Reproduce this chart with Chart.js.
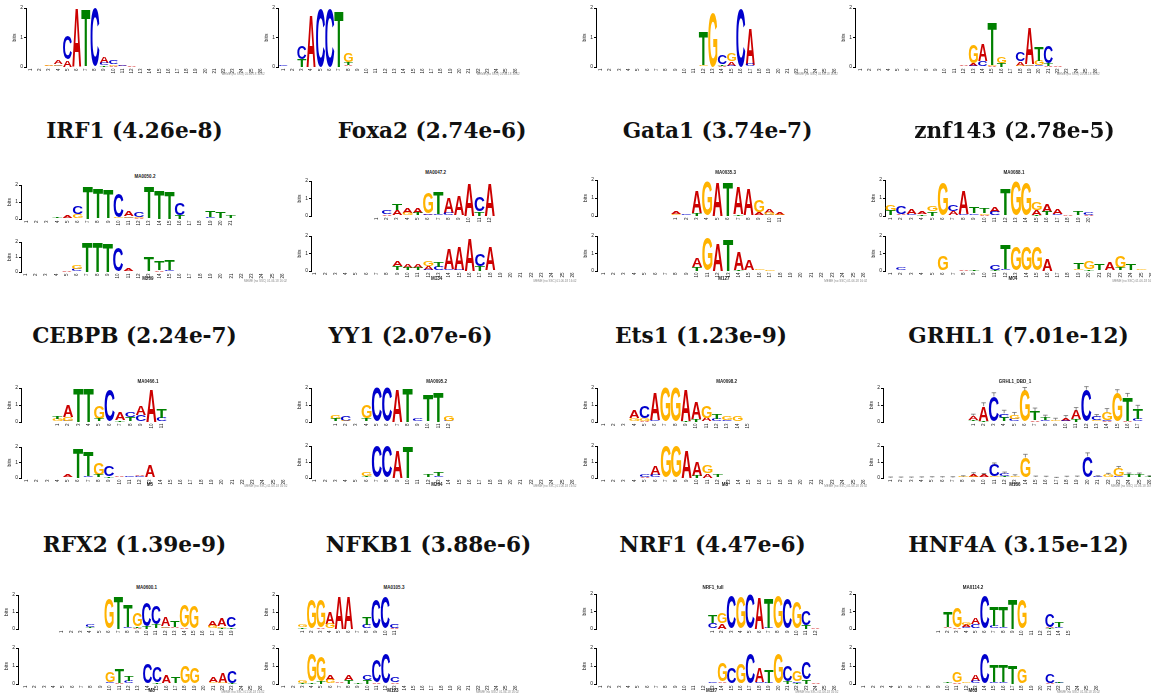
<!DOCTYPE html>
<html lang="en">
<head>
<meta charset="UTF-8">
<title>Motif comparisons</title>
<script src="https://cdn.jsdelivr.net/npm/chart.js"></script>
<style>
  body { margin: 0; background: #fff; width: 1151px; height: 693px; overflow: hidden; position: relative; font-family: "Liberation Sans", Arial, sans-serif; }
  canvas { position: absolute; }
  .title { position: absolute; font-family: "DejaVu Serif", serif; font-weight: bold; font-size: 21.6px; color: #111; transform: translate(-50%, -50%); white-space: nowrap; line-height: 1; }
  .mname { position: absolute; font-size: 4.5px; font-weight: bold; color: #222; transform: translate(-50%, -50%); white-space: nowrap; line-height: 1; }
  .credit { position: absolute; font-size: 3px; color: #888; transform: translate(-100%, -50%); white-space: nowrap; line-height: 1; }
</style>
</head>
<body>
<script>
// each column: letter + height in bits, position 1..n
const rowA1 = ["", "", "A.03 C.02 G.02", "C.05 G.06 A.12", "A.25 C.8", "A2", "T1.95", "T.03 C1.95", "T.05 C.1 A.2", "A.05 G.05 C.12", "A.05 C.03 G.02", "A.02 C.01"];
const rowA2 = ["C.03 A.02", "T.03", "T.28 C.45", "A1.77", "C1.97", "G.02 C1.95", "T1.9", "C.03 A.03 T.1 G.3", "A.01"];
const rowA3 = ["", "", "", "", "", "", "C.02", "", "", "", "", "C.03 G.05 T1.12", "G1.85", "A.04 T.06 C.3", "C.05 A.14 G.25", "C1.97", "C.08 A1.22", "", "", "G.02", "", "", "G.02"];
const rowA4 = ["", "", "", "", "", "", "", "", "", "", "C.03", "A.03 C.02", "C.05 A.08 G.6", "T.03 C.17 A.55", "A.04 G.04 T1.43", "T.14 G.23", "", "G.05 A.14 C.32", "G.05 C.06 A1.22", "C.05 G.17 T.48", "A.04 T.1 C.57", "A.04"];

const irf1Top = ["", "T.03", "C.02 T.03", "G.03 C.03 T.08", "G.06 A.18", "T.03 G.25 C.45", "T1.94", "C.05 T1.78", "A.05 T1.68", "G.1 C1.38", "C.1 G.08 A.32", "A.06 G.06 C.3", "C.05 T1.8", "T1.7", "T1.65", "T.25 C.7", "A.02", "", "A.05 C.05 T.38", "C.05 T.38", "C.05 T.13"];
const irf1Bot = ["A.02", "T.02", "C.03", "A.03 T.03", "C.03 A.08", "C.2 G.28", "T2", "T1.98", "T1.93", "T.05 C1.55", "G.05 A.18", "A.05", "A.06 T.95", "A.12 T.6", "C.15 T.72", "A.04", "", "", "A.02"];
const foxa2Top = ["", "G.02 A.1 C.2", "G.05 A.27 T.4", "C.04 G.15 A.28", "G.05 T.15 A.32", "C.08 A.1 G1.2", "C.13 T1.25", "C.2 A.85", "C.04 A1.08", "A1.9", "T.25 C.8", "A1.9"];
const foxa2Bot = ["", "", "", "", "", "", "", "", "C.05 T.22 A.3", "G.05 T.12 A.22", "C.05 T.12 A.2", "C.06 A.2 G.28", "A.05 C.2 T.28", "C.12 A1.2", "C.08 A1.3", "A1.9", "T.3 C.7", "T.05 A1.35"];
const gata1Top = ["C.03 G.06 A.13", "C.05 A.03", "T.18 A1.22", "G1.9", "A1.9", "T1.9", "T.1 A1.5", "C.04 A1.45", "C.05 A.14 G.68", "C.06 G.12 A.2", "G.06 A.12"];
const gata1Bot = ["G.05", "G.03", "", "", "", "", "", "", "", "T.22 A.48", "G1.87", "A1.55", "T1.8", "T.08 A1.0", "C.05 A.55", "A.03 G.03", "G.03 A.02"];
const znf143Top = ["C.03 T.25 G.33", "G.05 A.05 C.42", "T.05 C.05 A.28", "T.1 A.15", "T.25 G.3", "G1.85", "T.03 A.22 C.38", "C.12 A1.3", "G.05 C.1 T.33", "A.08 G.1 T.25", "G.03 C.2 A.28", "A.04 T1.4", "G1.95", "G1.85", "T.08 A.25 G.4", "C.05 T.18 A.42", "T.05 C.05 A.25", "A.06", "C.05 T.18", "A.08 C.15"];
const znf143Bot = ["A.02 G.02", "A.04 C.12", "C.02", "", "G.05", "A.05 G.8", "C.04", "A.08", "T.08", "G.04", "T.06 C.28", "C.1 T1.4", "G1.4", "G1.35", "G1.35", "A.72", "A.03", "", "A.05 G.05 T.35", "T.12 G.45", "A.05 T.38", "G.05 A.42", "T.12 A.05 G.65", "G.05 T.4", "G.06", "A.04"];

const cebpbTop = ["A.04 G.12 T.12", "C.08 G.2 A.66", "T2", "T2", "A.04 T.15 G.8", "C1.85", "T.1 A.45", "G.04 T.25 C.3", "C.42 A.52", "A1.95", "C.26 T.55"];
const cebpbBot = ["", "", "", "A.03 C.03", "G.05 A.2", "T1.98", "C.1 T1.6", "A.05 T.15 G.72", "T.1 C.68", "C.05 A.1", "A.06 C.08", "C.1 A.1", "G.06 A.75", "A.03"];
const yy1Top = ["A.04 T.12 G.22", "G.08 C.3", "C.02", "A.05 T.15 G.78", "C2", "C2", "A1.9", "T2", "T.05 C.12", "C.05 T1.5", "T1.75", "C.08 G.3"];
const yy1Bot = ["", "", "G.03", "C.03", "A.02", "A.05 T.1 G.25", "C1.98", "C1.98", "A1.72", "T1.95", "T.03 C.02", "C.05 T.18", "C.1 T.22", "A.02"];
const ets1Top = ["", "A.03", "A.03 G.03", "C.05 G.18 A.45", "A.07 G.15 C.7", "C.1 A1.6", "G2", "G2", "T.06 A1.82", "T.15 A.95", "T.05 A.2 G.7", "G.05 C.14 T.3", "A.05 C.05 G.22", "C.05 G.28", ""];
const ets1Bot = ["", "", "", "A.05", "A.08 C.15", "C.2 A.55", "G2", "G2", "A1.75", "T.15 A.88", "A.3 G.5", "A.05 T.15", "G.04", "G.03"];
const grhl1Top = ["G.04 T.08 A.22", "T.08 A.85", "A.05 C1.45", "G.05 T.2 C.26", "T.04 C.12 G.25", "G1.85", "A.12 T.5", "A.05 C.05 T.15", "T.05 G.05", "G.04 C.04 A.15", "T.15 A.5", "C1.9", "T.04 G.05 C.2", "A.06 C.08 G.45", "G1.72", "A.08 T1.4", "C.2 T.58"];
const grhl1TopErr = [0.12, 0.2, 0.22, 0.18, 0.15, 0.18, 0.2, 0.15, 0.12, 0.15, 0.2, 0.18, 0.15, 0.2, 0.18, 0.2, 0.2];
const grhl1Bot = ["G.02", "A.02", "C.02", "G.02", "A.03", "C.03", "T.03", "A.04 G.04", "G.08 A.15", "C.05 A.15", "A.05 G.05 C.72", "G.05 T.08 C.14", "C.04 G.08", "G1.28", "T.06", "A.05", "", "C.05", "A.06", "C1.35", "C.08", "C.06 G.15", "C.1 G.5", "G.05 T.18", "C.05 T.18", "G.04 T.04"];
const grhl1BotErr = [0.04, 0.04, 0.04, 0.05, 0.05, 0.05, 0.05, 0.06, 0.1, 0.08, 0.12, 0.1, 0.08, 0.2, 0.06, 0.06, 0.04, 0.06, 0.06, 0.22, 0.06, 0.08, 0.12, 0.08, 0.08, 0.06];

const rfx2Top = ["", "", "", "G.04 T.06 C.14", "", "G1.8", "T1.9", "C.1 T1.3", "A.06 T.1 G.8", "T.18 C1.4", "A.05 T.2 C1.05", "G.08 C.08 A.55", "A.08 C.06 T.4", "A.1 G1.28", "A.05 G1.3", "C.05", "C.05 G.12 A.28", "T.06 G.1 A.45", "T.1 C.6"];
const rfx2Bot = ["", "", "", "", "", "", "", "", "", "C.08 G.6", "A.06 T.82", "C.18 T.3", "", "C1.15", "T.12 C.85", "T.05 A.45", "C.05 T.38", "A.04 G.95", "G.92", "A.05", "G.1 A.25", "G.06 A.55", "T.06 C.65"];
const nfkb1Top = ["T.1 G.14", "G1.73", "A.08 G1.6", "G.3 A.68", "A1.9", "A1.9", "T.05", "C.25 T.45", "C1.75", "C1.9", "A.08 C.2"];
const nfkb1Bot = ["", "", "T.08 G.15", "T.12 G1.55", "T.15 G1.35", "G.22 A.3", "G.05 A.06", "T.25 A.3", "T.06", "T.22 C.3", "A.1 C1.2", "C1.72", "A.1 C.28"];
const nrf1Top = ["A.03 C.3 T.45", "A.35 G.6", "C1.87", "G1.8", "C2", "A1.8", "C.06 T1.72", "G1.87", "C1.73", "C.04 G1.5", "T.22 C.82", "A.07"];
const nrf1Bot = ["A.02", "G.02", "C.02", "G.03", "A.02", "G.05", "C.02", "", "A.03", "", "", "", "T.05 C.05", "T.05 A.1 G1.0", "A.05 C.85", "G1.12", "C1.72", "C.12 A.82", "C.06 T.75", "G1.72", "T.15 C.85", "T.06 C.1 G.55", "T.25 C.95", "A.1", "A.02"];
const hnf4aTop = ["A.03", "C.05 A.06 T.85", "A.1 G1.15", "C.1 A.12 G.18", "C.28 A.4", "C1.87", "C.18 T1.1", "C.12 T1.15", "T1.7", "A.04 G1.65", "", "C.05", "T.06 A.06 C.72", "C.12 T.28", "C.05"];
const hnf4aBot = ["", "", "", "", "", "", "", "", "", "A.04 T.08", "A.1 G.6", "G.08", "C.18 A.32", "C1.72", "C.12 T.95", "C.12 T.95", "T1.02", "G.85", "A.03", "C.03", "A.06 C.52", "C.06 T.1"];

const panelTitles = ["IRF1 (4.26e-8)", "Foxa2 (2.74e-6)", "Gata1 (3.74e-7)", "znf143 (2.78e-5)",
                     "CEBPB (2.24e-7)", "YY1 (2.07e-6)", "Ets1 (1.23e-9)", "GRHL1 (7.01e-12)",
                     "RFX2 (1.39e-9)", "NFKB1 (3.88e-6)", "NRF1 (4.47e-6)", "HNF4A (3.15e-12)"];
const topNames = ["MA0050.2", "MA0047.2", "MA0035.3", "MA0088.1",
                  "MA0466.1", "MA0095.2", "MA0098.2", "GRHL1_DBD_1",
                  "MA0600.1", "MA0105.3", "NRF1_full", "MA0114.2"];
const bottomNames = ["M209", "M134", "M127", "M04",
                     "M5", "M264", "M8", "M186",
                     "M8", "M123", "M127", "M63"];
const creditText = "MEME (no SSC) 01.06.18 16:02";

// placement of every logo on the page (pixels)
const logos = [
  { cols: rowA1, n: 26, ax: 26, x1: 30.7, dx: 9.2, y2: 8.3, y0: 66.7, credit: 74 },
  { cols: rowA2, n: 26, ax: 277.7, x1: 283.3, dx: 9.3, y2: 8.3, y0: 66.7, credit: 74 },
  { cols: rowA3, n: 26, ax: 595.7, x1: 600.7, dx: 9.33, y2: 8.3, y0: 66.7, credit: 74 },
  { cols: rowA4, n: 26, ax: 855.3, x1: 860.7, dx: 9.4, y2: 8.3, y0: 66.7, credit: 74 },

  { cols: irf1Top, n: 21, ax: 20.7, x1: 26.7, dx: 10.2, y2: 185, y0: 219.3 },
  { cols: irf1Bot, n: 26, ax: 20.7, x1: 25.5, dx: 10.3, y2: 241.7, y0: 271.7, credit: 281 },
  { cols: foxa2Top, n: 12, ax: 310.7, x1: 376.7, dx: 10.3, y2: 180.7, y0: 216 },
  { cols: foxa2Bot, n: 26, ax: 310.7, x1: 315, dx: 10.3, y2: 236, y0: 270.7, credit: 281 },
  { cols: gata1Top, n: 11, ax: 597.3, x1: 676, dx: 10.35, y2: 180, y0: 216 },
  { cols: gata1Bot, n: 26, ax: 597.3, x1: 603.3, dx: 10.4, y2: 236, y0: 270.7, credit: 281 },
  { cols: znf143Top, n: 20, ax: 885, x1: 890.7, dx: 10.4, y2: 180, y0: 216 },
  { cols: znf143Bot, n: 26, ax: 885, x1: 890.7, dx: 10.43, y2: 236, y0: 270.7, credit: 281 },

  { cols: cebpbTop, n: 11, ax: 20.7, x1: 57.5, dx: 10.4, y2: 388.3, y0: 421.7 },
  { cols: cebpbBot, n: 26, ax: 20.7, x1: 26.7, dx: 10.27, y2: 446.7, y0: 477.7, credit: 486 },
  { cols: yy1Top, n: 12, ax: 310.7, x1: 335.6, dx: 10.3, y2: 388.3, y0: 421.7 },
  { cols: yy1Bot, n: 26, ax: 310.7, x1: 315, dx: 10.3, y2: 445.7, y0: 477.7, credit: 486 },
  { cols: ets1Top, n: 15, ax: 597.3, x1: 603.3, dx: 10.3, y2: 388.3, y0: 421.7 },
  { cols: ets1Bot, n: 26, ax: 597.3, x1: 603.3, dx: 10.4, y2: 445.7, y0: 477.7, credit: 486 },
  { cols: grhl1Top, n: 17, ax: 882.7, x1: 973.5, dx: 10.3, y2: 387.7, y0: 421.7, err: grhl1TopErr },
  { cols: grhl1Bot, n: 26, ax: 882.7, x1: 890.7, dx: 10.37, y2: 445.7, y0: 477.7, err: grhl1BotErr, credit: 486 },

  { cols: rfx2Top, n: 19, ax: 18.3, x1: 62, dx: 9.4, y2: 595, y0: 629 },
  { cols: rfx2Bot, n: 26, ax: 18.3, x1: 25.5, dx: 9.4, y2: 647.7, y0: 684.3, credit: 692 },
  { cols: nfkb1Top, n: 11, ax: 277.7, x1: 302.5, dx: 9.24, y2: 595, y0: 629 },
  { cols: nfkb1Bot, n: 26, ax: 277.7, x1: 284, dx: 9.24, y2: 648.3, y0: 684.3, credit: 692 },
  { cols: nrf1Top, n: 12, ax: 595.7, x1: 713, dx: 9.35, y2: 594.3, y0: 629 },
  { cols: nrf1Bot, n: 26, ax: 595.7, x1: 600.7, dx: 9.35, y2: 648.3, y0: 684.3, credit: 692 },
  { cols: hnf4aTop, n: 15, ax: 855.3, x1: 938.5, dx: 9.28, y2: 594.3, y0: 629 },
  { cols: hnf4aBot, n: 26, ax: 855.3, x1: 864, dx: 9.28, y2: 648.3, y0: 684.3, credit: 692 }
];

const titlePos = [[134.5, 131], [432, 131], [717.5, 131], [1014.5, 131],
                  [134.5, 336], [410.5, 336], [701, 336], [1018.5, 336],
                  [134.5, 545], [428.5, 545], [712.5, 545], [1018.5, 545]];
const topNamePos = [[145, 177], [435.7, 173], [725.7, 173], [1014, 173],
                    [148, 381.7], [436.7, 381.7], [726.7, 381.7], [1015, 381.7],
                    [146.7, 587.7], [394, 587.7], [713, 587.7], [973, 587.7]];
const bottomNamePos = [[148, 279], [436.7, 278.5], [724, 278.5], [1013, 278.5],
                       [150, 484.5], [437, 484.5], [725, 484.5], [1015, 484.5],
                       [151.7, 691], [393, 691], [711.7, 691], [973, 691]];

const letterColor = { A: '#cc0000', C: '#0000cc', G: '#ffb300', T: '#008000' };
const glyphFont = 'bold 100px "Liberation Sans", Arial, sans-serif';
const glyphBox = {};

function measureGlyph(ctx, ch) {
  if (!glyphBox[ch]) {
    ctx.save();
    ctx.font = glyphFont;
    const m = ctx.measureText(ch);
    glyphBox[ch] = { l: m.actualBoundingBoxLeft, r: m.actualBoundingBoxRight, a: m.actualBoundingBoxAscent, d: m.actualBoundingBoxDescent };
    ctx.restore();
  }
  return glyphBox[ch];
}

// stretches a letter into every bar rectangle, adds error bars and the position numbers
const logoLetters = {
  id: 'logoLetters',
  afterDatasetsDraw(chart, args, opts) {
    const ctx = chart.ctx;
    chart.data.datasets.forEach((ds, i) => {
      chart.getDatasetMeta(i).data.forEach(bar => {
        const p = bar.getProps(['x', 'y', 'base', 'width'], true);
        const h = p.base - p.y;
        if (h < 0.35) return;
        const g = measureGlyph(ctx, ds.label);
        ctx.save();
        ctx.translate(p.x - p.width / 2, p.y);
        ctx.scale(p.width / (g.l + g.r), h / (g.a + g.d));
        ctx.font = glyphFont;
        ctx.textAlign = 'left';
        ctx.textBaseline = 'alphabetic';
        ctx.fillStyle = letterColor[ds.label];
        ctx.fillText(ds.label, g.l, g.a);
        ctx.restore();
      });
    });
    const xs = chart.scales.x, ys = chart.scales.y;
    if (opts.err) {
      ctx.save();
      ctx.strokeStyle = '#444';
      ctx.lineWidth = 0.6;
      opts.err.forEach((e, k) => {
        const x = xs.getPixelForValue(k + 1);
        const yA = ys.getPixelForValue(opts.tops[k]);
        const yB = ys.getPixelForValue(opts.tops[k] + e);
        const cap = opts.dx * 0.22;
        ctx.beginPath();
        ctx.moveTo(x, yA); ctx.lineTo(x, yB);
        ctx.moveTo(x - cap, yB); ctx.lineTo(x + cap, yB);
        ctx.stroke();
      });
      ctx.restore();
    }
    ctx.save();
    ctx.font = '4.5px "Liberation Sans", Arial, sans-serif';
    ctx.fillStyle = '#222';
    ctx.textAlign = 'right';
    ctx.textBaseline = 'middle';
    for (let pos = 1; pos <= opts.n; pos++) {
      ctx.save();
      ctx.translate(xs.getPixelForValue(pos), xs.top + 1.5);
      ctx.rotate(-Math.PI / 2);
      ctx.fillText(String(pos), 0, 0);
      ctx.restore();
    }
    ctx.restore();
  }
};

function parseCol(s) {
  const out = [];
  (s || '').replace(/([ACGT])([\d.]+)/g, (m, b, v) => { out.push([b, parseFloat(v)]); return m; });
  return out.sort((p, q) => p[1] - q[1]);
}

function addText(cls, text, x, y) {
  const d = document.createElement('div');
  d.className = cls;
  d.textContent = text;
  d.style.left = x + 'px';
  d.style.top = y + 'px';
  document.body.appendChild(d);
}

function makeLogo(spec) {
  const padTop = 5, yAxisW = 14, xAxisH = 9;
  const left = Math.round(spec.ax - yAxisW);
  const top = Math.round(spec.y2 - padTop);
  const areaLeft = left + yAxisW;
  const min = 1 - (spec.x1 - areaLeft) / spec.dx;
  const max = spec.n + 0.6;
  const canvas = document.createElement('canvas');
  canvas.width = Math.round(yAxisW + (max - min) * spec.dx + 2);
  canvas.height = Math.round(spec.y0) - top + xAxisH;
  canvas.style.left = left + 'px';
  canvas.style.top = top + 'px';
  document.body.appendChild(canvas);

  const sets = { A: [], C: [], G: [], T: [] };
  const tops = [];
  for (let pos = 1; pos <= spec.n; pos++) {
    let lo = 0;
    parseCol(spec.cols[pos - 1]).forEach(([b, v]) => {
      sets[b].push({ x: pos, y: [lo, lo + v] });
      lo += v;
    });
    tops.push(lo);
  }

  new Chart(canvas, {
    type: 'bar',
    data: {
      datasets: ['A', 'C', 'G', 'T'].map(b => ({
        label: b,
        data: sets[b],
        backgroundColor: 'rgba(0,0,0,0)',
        borderWidth: 0,
        grouped: false,
        barThickness: spec.dx * 0.97
      }))
    },
    options: {
      responsive: false,
      animation: false,
      events: [],
      layout: { padding: { top: padTop, right: 2, left: 0, bottom: 0 } },
      plugins: {
        legend: { display: false },
        tooltip: { enabled: false },
        logoLetters: { err: spec.err || null, tops: tops, dx: spec.dx, n: spec.n }
      },
      scales: {
        x: {
          type: 'linear', bounds: 'data', min: min, max: max, offset: false,
          grid: { display: false }, border: { display: false },
          ticks: { display: false },
          afterFit: s => { s.height = xAxisH; }
        },
        y: {
          min: 0, max: 2,
          ticks: { stepSize: 1, padding: 1, font: { size: 5 }, color: '#222' },
          grid: { drawOnChartArea: false, tickLength: 2, color: '#000', lineWidth: 1 },
          border: { color: '#000', width: 1 },
          title: { display: true, text: 'bits', font: { size: 5 }, padding: 0, color: '#222' },
          afterFit: s => { s.width = yAxisW; }
        }
      }
    },
    plugins: [logoLetters]
  });

  if (spec.credit) {
    addText('credit', creditText, spec.x1 + (spec.n - 1) * spec.dx + 4, spec.credit);
  }
}

logos.forEach(makeLogo);

panelTitles.forEach((t, i) => addText('title', t, titlePos[i][0], titlePos[i][1]));
topNames.forEach((t, i) => addText('mname', t, topNamePos[i][0], topNamePos[i][1]));
bottomNames.forEach((t, i) => addText('mname', t, bottomNamePos[i][0], bottomNamePos[i][1]));
</script>
</body>
</html>
